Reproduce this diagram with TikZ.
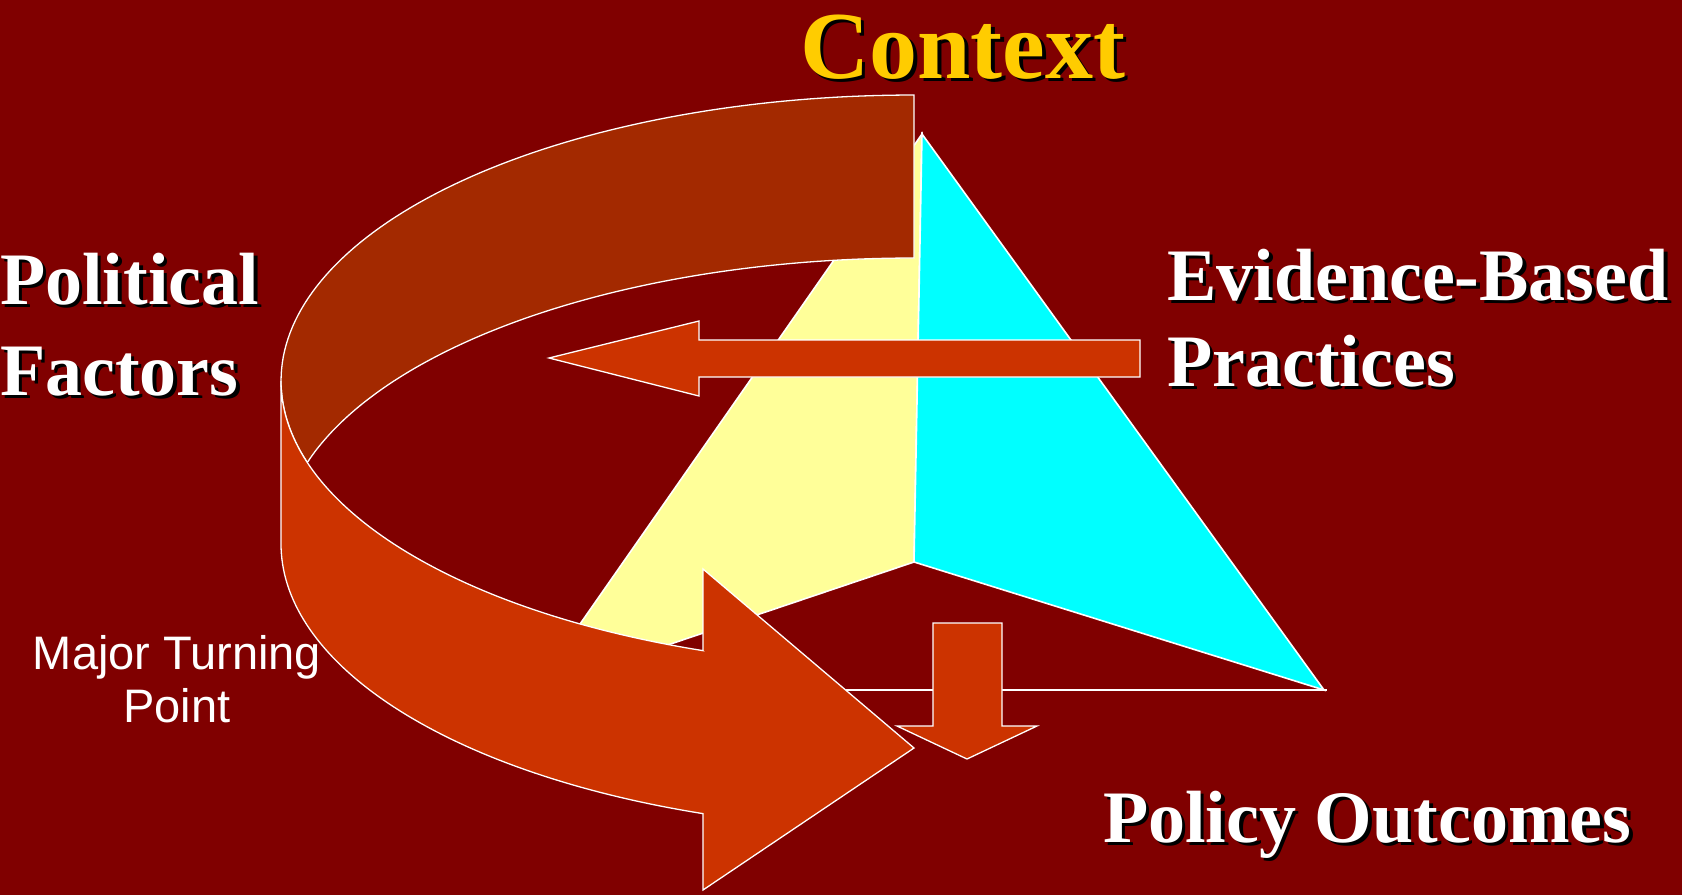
\documentclass[tikz,border=0pt]{standalone}
\usepackage{fontspec}
\setmainfont{Liberation Serif}
\newfontfamily\labelsans{Liberation Sans}

\definecolor{slidebg}{HTML}{800000}
\definecolor{bandback}{HTML}{A32900}
\definecolor{bandfront}{HTML}{CC3300}
\definecolor{faceyellow}{HTML}{FFFF99}
\definecolor{facecyan}{HTML}{00FFFF}
\definecolor{titlegold}{HTML}{FFCC00}

% A bold title with a black drop shadow: [options]{name}{base point}{colour}{text}
\newcommand{\shadowlabel}[5][]{%
  \node[titletext, #1, text=black, xshift=3.5pt, yshift=-3.5pt] (#2-shadow) at (#3) {#5};
  \node[titletext, #1, text=#4] (#2) at (#3) {#5};}

\begin{document}
\begin{tikzpicture}[x=1pt, y=-1pt,
    outline/.style={draw=white, line width=1.6pt, line join=miter},
    thinoutline/.style={draw=white, line width=1.3pt, line join=miter},
    titletext/.style={anchor=base west, inner sep=0pt,
      font=\bfseries\fontsize{74}{74}\selectfont},
    sidenote/.style={anchor=base, inner sep=0pt, text=white,
      font=\labelsans\fontsize{47}{47}\selectfont}]

  % background
  \fill[slidebg] (0,0) rectangle (1682,895);
  \useasboundingbox (0,0) rectangle (1682,895);

  % pyramid corners
  \coordinate (apex)  at (922,134);
  \coordinate (front) at (914,562);
  \coordinate (left)  at (534,690);
  \coordinate (right) at (1324,690);
  \coordinate (rightend) at (1327,690);

  % hidden back edge of the base
  \draw[white, line width=1.6pt] (left) -- (rightend);

  % pyramid faces
  \filldraw[fill=faceyellow, outline] (apex) -- (left) -- (front) -- cycle;
  \filldraw[fill=facecyan, outline] (apex) -- (front) -- (right) -- cycle;

  % back half of the ribbon (inner side)
  \filldraw[fill=bandback, thinoutline]
    (914,95)
    -- plot[domain=270:163.44, samples=90, variable=\t]
         ({914+633*cos(\t)}, {381+286*sin(\t)})
    -- plot[domain=196.56:270, samples=90, variable=\t]
         ({914+633*cos(\t)}, {544+286*sin(\t)})
    -- cycle;

  % front half of the ribbon with its arrowhead
  \coordinate (bigtip) at (914,748);
  \filldraw[fill=bandfront, thinoutline]
    (703,650.6)
    -- plot[domain=109.47:180, samples=70, variable=\t]
         ({914+633*cos(\t)}, {381+286*sin(\t)})
    -- (281,544)
    -- plot[domain=180:109.47, samples=70, variable=\t]
         ({914+633*cos(\t)}, {544+286*sin(\t)})
    -- (703,890) -- (bigtip) -- (703,569) -- cycle;

  % arrow from the practices towards the left
  \coordinate (lefttip) at (549,358);
  \filldraw[fill=bandfront, thinoutline]
    (1140,340) -- (699,340) -- (699,321) -- (lefttip)
    -- (699,396) -- (699,377) -- (1140,377) -- cycle;

  % arrow down to the outcomes
  \coordinate (downtip) at (967,759);
  \filldraw[fill=bandfront, thinoutline]
    (933,623) -- (1002,623) -- (1002,726) -- (1037,726) -- (downtip)
    -- (897,726) -- (933,726) -- cycle;

  % titles
  \shadowlabel[font=\bfseries\fontsize{96}{96}\selectfont]{context}{800,78}{titlegold}{Context}
  \shadowlabel{political}{0,304}{white}{Political}
  \shadowlabel{factors}{0,395}{white}{Factors}
  \shadowlabel{evidence}{1167,300}{white}{Evidence-Based}
  \shadowlabel{practices}{1167,386}{white}{Practices}
  \shadowlabel{outcomes}{1103,842}{white}{Policy Outcomes}

  % note beside the ribbon
  \node[sidenote] (turning) at (177,669) {Major Turning};
  \node[sidenote] (point) at (177,722) {Point};
\end{tikzpicture}
\end{document}
